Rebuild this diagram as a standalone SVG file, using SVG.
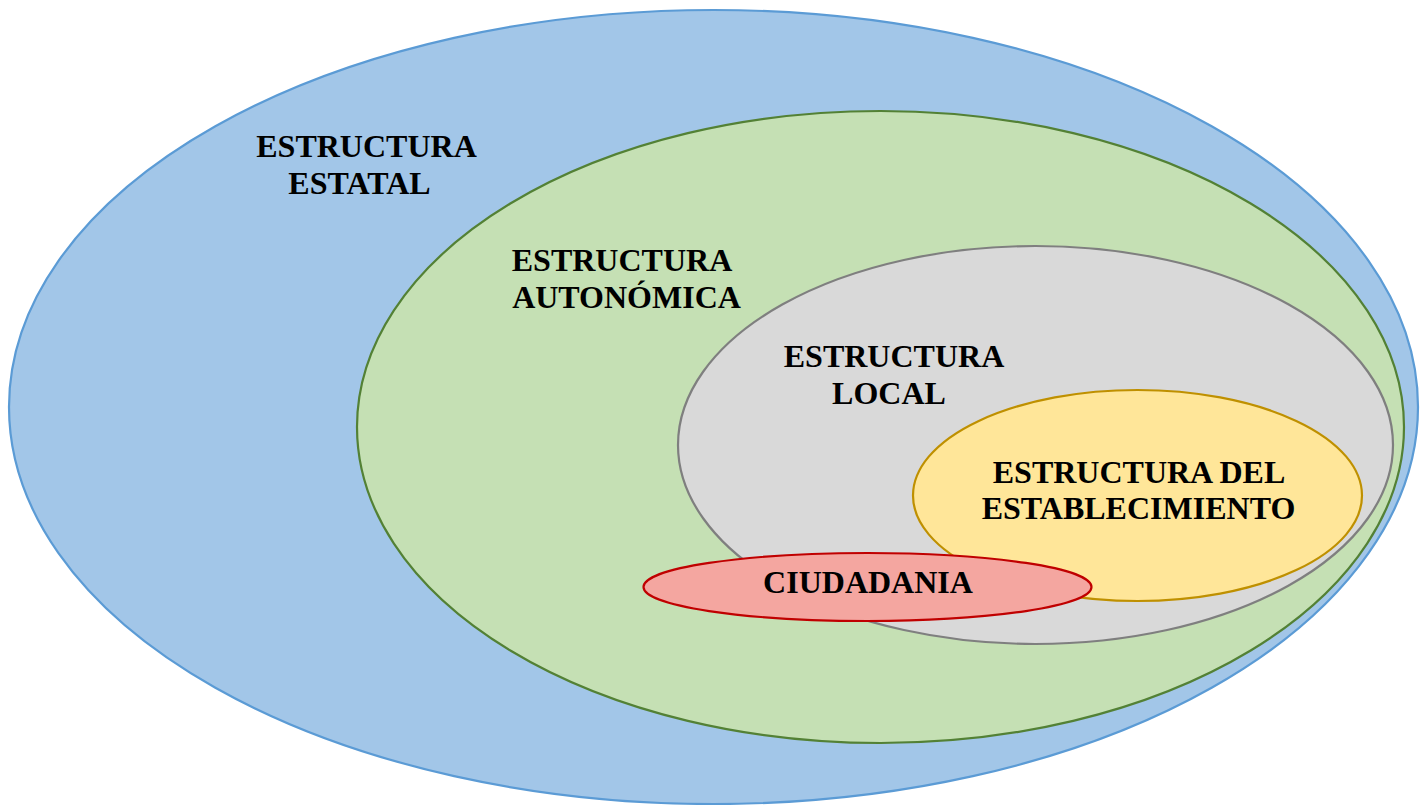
<svg xmlns="http://www.w3.org/2000/svg" width="1426" height="805" viewBox="0 0 1426 805">
<style>
.t{font-family:"Liberation Serif","Times New Roman",serif;font-weight:bold;font-size:32px;fill:#000;text-anchor:middle}
ellipse{stroke-width:2.2}
</style>
<rect width="1426" height="805" fill="#fff"/>
<g id="estatal">
<ellipse cx="713.5" cy="407" rx="704.5" ry="397" fill="#A2C6E8" stroke="#5B9BD5"/>
<text class="t" x="366.5" y="157">ESTRUCTURA</text>
<text class="t" x="359.5" y="194">ESTATAL</text>
</g>
<g id="autonomica">
<ellipse cx="880.5" cy="427" rx="523.5" ry="316" fill="#C5E0B4" stroke="#538135"/>
<text class="t" x="622" y="271">ESTRUCTURA</text>
<text class="t" x="626.5" y="308">AUTONÓMICA</text>
</g>
<g id="local">
<ellipse cx="1035.5" cy="445" rx="357.5" ry="199" fill="#D9D9D9" stroke="#7F7F7F"/>
<text class="t" x="894" y="367">ESTRUCTURA</text>
<text class="t" x="889" y="404">LOCAL</text>
</g>
<g id="establecimiento">
<ellipse cx="1137.5" cy="495.5" rx="224.5" ry="105.5" fill="#FFE699" stroke="#BF9000"/>
<text class="t" x="1139" y="483">ESTRUCTURA DEL</text>
<text class="t" x="1138.5" y="519">ESTABLECIMIENTO</text>
</g>
<g id="ciudadania">
<ellipse cx="867.5" cy="587" rx="224" ry="34" fill="#F4A6A0" stroke="#C00000"/>
<text class="t" x="868" y="593">CIUDADANIA</text>
</g>
<g id="connectors"/>
</svg>
